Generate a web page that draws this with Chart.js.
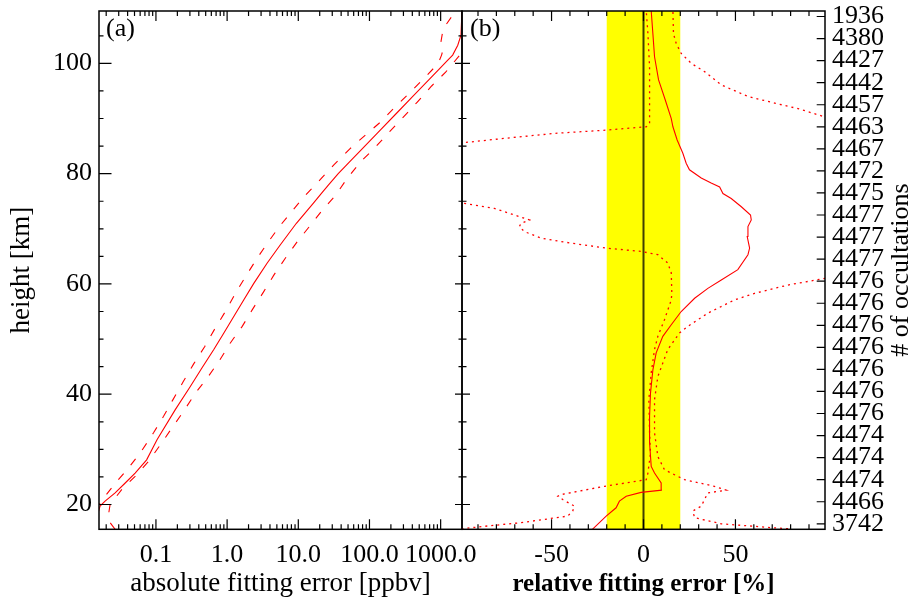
<!DOCTYPE html>
<html lang="en">

<head>
    <meta charset="UTF-8" />
    <title>Fitting error profiles</title>
    <script src="https://cdn.jsdelivr.net/npm/chart.js"></script>
    <style>
        body { margin: 0; background: #fff; }
        .wrap { position: relative; width: 914px; height: 600px; }
        canvas { position: absolute; top: 0; }
        #absChart { left: 0; }
        #relChart { left: 455px; }
    </style>
</head>

<body>
    <div class="wrap">
        <canvas id="absChart" width="480" height="600"></canvas>
        <canvas id="relChart" width="459" height="600"></canvas>
    </div>

    <script>
        // ---- height axis (shared by both panels)
        const kmMajorTicks = [20, 40, 60, 80, 100];
        const kmTickLabels = ['20', '40', '60', '80', '100'];

        // ---- panel (a): absolute fitting error [ppbv], log axis
        const absMajorTicks = [0.1, 1, 10, 100, 1000];
        const absTickLabels = ['0.1', '1.0', '10.0', '100.0', '1000.0'];

        const absMeanKm = [15.5, 17.0, 18.5, 19.7, 20.6, 22.1, 23.9, 25.7, 28.1, 31.8, 37.2, 41.4, 44.7, 48.1, 51.1, 54.1, 57.1, 60.1, 63.8, 67.1, 71.0, 74.6, 76.7, 78.0, 80.0, 82.0, 85.0, 88.0, 91.0, 94.0, 97.0, 99.0, 100.6, 101.5, 103.3, 105.1, 109.5];
        const absMean = [0.0156, 0.0153, 0.0154, 0.0164, 0.0193, 0.0267, 0.037, 0.051, 0.074, 0.104, 0.187, 0.304, 0.44, 0.65, 0.90, 1.24, 1.71, 2.37, 3.66, 5.6, 9.4, 16.2, 22.0, 26.8, 36.4, 51.3, 86, 144, 242, 406, 681, 960, 1260, 1475, 1740, 1930, 1995];

        const absLowKm = [15.5, 17.5, 19.5, 20.9, 23.9, 26.6, 29.6, 33.0, 36.0, 38.7, 42.2, 45.5, 48.6, 51.8, 55.0, 58.3, 61.3, 64.5, 67.5, 70.5, 73.4, 76.1, 79.0, 81.6, 84.5, 86.9, 89.3, 91.8, 94.4, 97.2, 99.1, 100.0, 101.5, 102.4, 103.9, 106.0, 107.2, 108.9, 109.5];
        const absLow = [0.0140, 0.0141, 0.0150, 0.0178, 0.027, 0.041, 0.062, 0.0925, 0.128, 0.168, 0.24, 0.339, 0.483, 0.668, 0.946, 1.31, 1.81, 2.59, 3.73, 5.5, 8.4, 12.6, 20.6, 31.6, 53, 86, 141, 218, 350, 575, 795, 925, 1030, 1077, 1009, 1077, 1216, 1510, 1650];

        const absHighKm = [15.5, 16.7, 17.9, 20.0, 22.7, 25.1, 27.8, 31.2, 33.9, 36.9, 40.2, 42.9, 45.9, 49.3, 52.3, 55.3, 58.6, 61.6, 64.7, 67.7, 70.5, 73.4, 76.1, 79.2, 82.3, 84.7, 87.7, 90.3, 92.9, 95.9, 98.4, 101.4, 103.0];
        const absHigh = [0.0267, 0.0227, 0.0214, 0.0227, 0.033, 0.051, 0.0787, 0.121, 0.168, 0.245, 0.358, 0.522, 0.762, 1.11, 1.63, 2.25, 3.27, 4.53, 6.6, 9.7, 14.5, 21.8, 33.5, 49, 77, 119, 195, 301, 463, 747, 1175, 1828, 2500];

        // ---- panel (b): relative fitting error [%]
        const relMajorTicks = [-50, 0, 50];
        const relTickLabels = ['-50', '0', '50'];
        const relBand = [-20, 20];
        const relZero = 0;

        const relMeanKm = [15.5, 17.9, 19.4, 20.6, 21.5, 22.2, 22.6, 23.9, 25.7, 26.9, 31.2, 36.0, 40.2, 44.4, 47.5, 50.5, 52.6, 55.0, 57.4, 59.2, 60.7, 62.6, 65.3, 66.5, 68.6, 70.4, 71.6, 72.5, 74.0, 75.5, 76.4, 77.6, 78.3, 79.2, 80.7, 81.9, 83.7, 86.1, 88.5, 90.0, 93.4, 97.0, 101.2, 105.4, 109.5];
        const relMean = [-27.8, -20.3, -14.9, -13.1, -9.4, -1.3, 10.0, 9.6, 6.0, 4.2, 3.3, 3.3, 3.8, 5.1, 6.9, 10.5, 15.1, 20.5, 27.8, 35.0, 42.3, 51.3, 56.8, 57.7, 56.4, 56.8, 58.6, 58.2, 53.2, 47.7, 43.2, 41.4, 36.8, 31.4, 25.0, 23.2, 21.4, 18.3, 16.0, 15.1, 11.8, 8.2, 6.0, 5.1, 4.2];

        const relLowKm = [15.6, 16.1, 16.7, 17.9, 18.8, 19.7, 20.9, 21.5, 21.8, 23.3, 24.5, 25.7, 29.3, 33.0, 39.0, 43.9, 48.1, 50.5, 53.5, 57.1, 58.3, 62.0, 63.8, 65.3, 65.9, 66.5, 67.4, 68.3, 69.5, 70.4, 71.0, 71.6, 72.3, 73.7, 74.6, 75.5, 84.5, 85.6, 86.4, 87.3, 87.9, 88.5, 89.1, 93.4, 99.4, 105.4, 109.5];
        const relLow = [-99, -84.8, -66.6, -41.2, -38.5, -37.6, -43.9, -46.6, -44.8, -21.2, 1.5, 2.4, 3.8, 3.3, 2.9, 4.2, 6.0, 7.8, 11.4, 15.1, 15.4, 15.1, 13.2, 7.8, -1.3, -20.3, -39.4, -55.7, -64.8, -67.5, -66.6, -62.0, -68.4, -81.1, -97.4, -140, -140, -98.4, -75.7, -48.4, -20.3, 1.5, 3.3, 3.3, 3.3, 2.4, 1.5];

        const relHighKm = [15.6, 15.8, 16.5, 17.6, 18.8, 19.7, 20.9, 22.1, 22.6, 23.3, 24.5, 26.3, 28.7, 33.0, 39.0, 43.2, 48.1, 51.1, 52.3, 54.7, 57.1, 58.3, 59.8, 61.0, 62.5, 89.5, 90.3, 91.8, 92.8, 94.0, 96.1, 98.5, 100.0, 101.8, 103.6, 105.4, 109.5];
        const relHigh = [78.6, 69.5, 42.3, 27.8, 26.8, 31.4, 33.2, 35.0, 45.0, 38.6, 22.3, 11.4, 7.8, 6.0, 6.0, 7.8, 13.2, 19.6, 24.1, 35.0, 49.5, 60.4, 78.6, 98.5, 140, 140, 98.5, 84.0, 71.3, 56.8, 42.3, 33.2, 26.0, 20.5, 17.8, 16.3, 16.0];

        // ---- right-hand axis: number of occultations per height bin
        const occHeights = [16.5, 20.5, 24.5, 28.5, 32.5, 36.5, 40.5, 44.5, 48.5, 52.5, 56.5, 60.5, 64.5, 68.5, 72.5, 76.5, 80.5, 84.5, 88.5, 92.5, 96.5, 100.5, 104.5, 108.5];
        const occCounts = [3742, 4466, 4474, 4474, 4474, 4476, 4476, 4476, 4476, 4476, 4476, 4476, 4477, 4477, 4477, 4475, 4472, 4467, 4463, 4457, 4442, 4427, 4380, 1936];

        const kmMin = 15.5, kmMax = 109.5;
        const RED = '#ff0000';
        const SERIF = "'Liberation Serif', 'Times New Roman', serif";

        Chart.defaults.font.family = SERIF;
        Chart.defaults.color = '#000';

        const pts = (xs, ys) => xs.map((x, i) => ({ x: x, y: ys[i] }));

        function tickSetter(majors, minors) {
            return axis => {
                const t = majors.map(v => ({ value: v, major: true }))
                    .concat(minors.map(v => ({ value: v, major: false })));
                axis.ticks = t.sort((a, b) => a.value - b.value);
            };
        }
        function tickLabeler(majors, labels) {
            return (value, i, ticks) => ticks[i].major ? labels[majors.indexOf(ticks[i].value)] : '';
        }
        // fixed axis box, no extra room asked for labels hanging over the ends
        function fixSize(w, h) {
            return s => {
                if (w !== null) s.width = w;
                if (h !== null) s.height = h;
                s.paddingTop = s.paddingBottom = s.paddingLeft = s.paddingRight = 0;
            };
        }

        const kmMinor = [];
        for (let v = 25; v <= 105; v += 5) if (!kmMajorTicks.includes(v)) kmMinor.push(v);
        const absMinor = [];
        for (let d = 0.01; d < 1000; d *= 10)
            for (let m = 2; m <= 9; m++) { const v = +(m * d).toPrecision(3); if (v > 0.0159 && v < 1995) absMinor.push(v); }
        const relMinor = [];
        for (let v = -90; v <= 90; v += 10) if (!relMajorTicks.includes(v)) relMinor.push(v);

        // frame, inward tick marks and free text
        const frameTicks = {
            id: 'frameTicks',
            afterDraw(chart, args, opts) {
                const { ctx, chartArea: a } = chart;
                ctx.save();
                ctx.strokeStyle = '#000';
                ctx.lineWidth = 1.2;
                ctx.beginPath();
                for (const m of opts.marks) {
                    const scale = chart.scales[m.axis];
                    for (const t of scale.ticks) {
                        const len = t.major ? m.major : m.minor;
                        const p = scale.getPixelForValue(t.value);
                        if (m.edge === 'bottom') { ctx.moveTo(p, a.bottom); ctx.lineTo(p, a.bottom - len); }
                        if (m.edge === 'top') { ctx.moveTo(p, a.top); ctx.lineTo(p, a.top + len); }
                        if (m.edge === 'left') { ctx.moveTo(a.left, p); ctx.lineTo(a.left + len, p); }
                        if (m.edge === 'right') { ctx.moveTo(a.right, p); ctx.lineTo(a.right - len, p); }
                    }
                }
                ctx.stroke();
                ctx.lineWidth = 1.5;
                ctx.strokeRect(a.left, a.top, a.right - a.left, a.bottom - a.top);
                ctx.fillStyle = '#000';
                ctx.textBaseline = 'middle';
                for (const t of opts.texts) {
                    ctx.save();
                    ctx.font = t.font;
                    ctx.textAlign = t.align;
                    ctx.translate(t.x, t.y);
                    if (t.rotate) ctx.rotate(t.rotate);
                    ctx.fillText(t.text, 0, 0);
                    ctx.restore();
                }
                ctx.restore();
            }
        };

        const hidden = { display: false };

        // ---------------- panel (a)
        new Chart(document.getElementById('absChart'), {
            type: 'scatter',
            data: {
                datasets: [
                    { data: pts(absMean, absMeanKm), borderColor: RED, borderWidth: 1.1 },
                    { data: pts(absLow, absLowKm), borderColor: RED, borderWidth: 1.1, borderDash: [8, 11] },
                    { data: pts(absHigh, absHighKm), borderColor: RED, borderWidth: 1.1, borderDash: [8, 11] }
                ]
            },
            options: {
                responsive: false,
                animation: false,
                devicePixelRatio: 1,
                showLine: true,
                elements: { point: { radius: 0 }, line: { tension: 0 } },
                layout: { padding: { top: 11, right: 18, left: 0, bottom: 0 } },
                plugins: {
                    legend: hidden, tooltip: { enabled: false },
                    frameTicks: {
                        marks: [
                            { axis: 'x', edge: 'bottom', major: 10, minor: 5 },
                            { axis: 'x', edge: 'top', major: 10, minor: 5 },
                            { axis: 'y', edge: 'left', major: 12.5, minor: 4.5 },
                            { axis: 'y', edge: 'right', major: 7, minor: 3.5 }
                        ],
                        texts: [
                            { text: '(a)', x: 106, y: 29, font: '26px ' + SERIF, align: 'left' }
                        ]
                    }
                },
                scales: {
                    x: {
                        type: 'logarithmic', position: 'bottom',
                        min: Math.pow(10, -1.8), max: Math.pow(10, 3.3),
                        grid: { display: false, drawTicks: false }, border: { display: false },
                        afterBuildTicks: tickSetter(absMajorTicks, absMinor),
                        afterFit: fixSize(null, 70.7),
                        ticks: { autoSkip: false, maxRotation: 0, padding: 10, font: { size: 26 }, callback: tickLabeler(absMajorTicks, absTickLabels) },
                        title: { display: true, text: 'absolute fitting error [ppbv]', font: { size: 27 }, padding: 0 }
                    },
                    y: {
                        type: 'linear', position: 'left', min: kmMin, max: kmMax,
                        grid: { display: false, drawTicks: false }, border: { display: false },
                        afterBuildTicks: tickSetter(kmMajorTicks, kmMinor),
                        afterFit: fixSize(99, null),
                        ticks: { autoSkip: false, padding: 7, font: { size: 26 }, callback: tickLabeler(kmMajorTicks, kmTickLabels) },
                        title: { display: true, text: 'height [km]', font: { size: 27 }, padding: { top: 6, bottom: 0 } }
                    }
                }
            },
            plugins: [frameTicks]
        });

        // ---------------- panel (b)
        const bandPts = [
            { x: relBand[0], y: kmMin }, { x: relBand[1], y: kmMin },
            { x: relBand[1], y: kmMax }, { x: relBand[0], y: kmMax }, { x: relBand[0], y: kmMin }
        ];

        new Chart(document.getElementById('relChart'), {
            type: 'scatter',
            data: {
                datasets: [
                    { data: pts(relMean, relMeanKm), borderColor: RED, borderWidth: 1.1 },
                    { data: pts(relLow, relLowKm), borderColor: RED, borderWidth: 1.3, borderDash: [2, 4] },
                    { data: pts(relHigh, relHighKm), borderColor: RED, borderWidth: 1.3, borderDash: [2, 4] },
                    { data: [{ x: relZero, y: kmMin }, { x: relZero, y: kmMax }], borderColor: 'rgba(0,0,0,0.75)', borderWidth: 2 },
                    { data: bandPts, borderWidth: 0, borderColor: 'rgba(0,0,0,0)', backgroundColor: '#ffff00', fill: 'shape' }
                ]
            },
            options: {
                responsive: false,
                animation: false,
                devicePixelRatio: 1,
                showLine: true,
                elements: { point: { radius: 0 }, line: { tension: 0 } },
                layout: { padding: { top: 11, right: 0, left: 7, bottom: 0 } },
                plugins: {
                    legend: hidden, tooltip: { enabled: false },
                    frameTicks: {
                        marks: [
                            { axis: 'x', edge: 'bottom', major: 10, minor: 5 },
                            { axis: 'x', edge: 'top', major: 10, minor: 5 },
                            { axis: 'y', edge: 'left', major: 8, minor: 4.5 },
                            { axis: 'yR', edge: 'right', major: 8.3, minor: 8.3 }
                        ],
                        texts: [
                            { text: '(b)', x: 15, y: 29, font: '26px ' + SERIF, align: 'left' },
                            { text: '# of occultations', x: 446, y: 270, font: '26px ' + SERIF, align: 'center', rotate: -Math.PI / 2 }
                        ]
                    }
                },
                scales: {
                    x: {
                        type: 'linear', position: 'bottom', min: -98.7, max: 98.7,
                        grid: { display: false, drawTicks: false }, border: { display: false },
                        afterBuildTicks: tickSetter(relMajorTicks, relMinor),
                        afterFit: fixSize(null, 70.7),
                        ticks: { autoSkip: false, maxRotation: 0, padding: 10, font: { size: 26 }, callback: tickLabeler(relMajorTicks, relTickLabels) },
                        title: { display: true, text: 'relative fitting error [%]', font: { size: 25, weight: 'bold' }, padding: 0 }
                    },
                    y: {
                        type: 'linear', display: false, min: kmMin, max: kmMax,
                        afterBuildTicks: tickSetter(kmMajorTicks, kmMinor)
                    },
                    yR: {
                        type: 'linear', position: 'right', min: kmMin, max: kmMax,
                        grid: { display: false, drawTicks: false }, border: { display: false },
                        afterBuildTicks: axis => { axis.ticks = occHeights.map(v => ({ value: v, major: true })); },
                        afterFit: fixSize(89, null),
                        ticks: { autoSkip: false, padding: 7, font: { size: 26 }, callback: (v, i) => String(occCounts[i]) }
                    }
                }
            },
            plugins: [frameTicks]
        });
    </script>
</body>

</html>
